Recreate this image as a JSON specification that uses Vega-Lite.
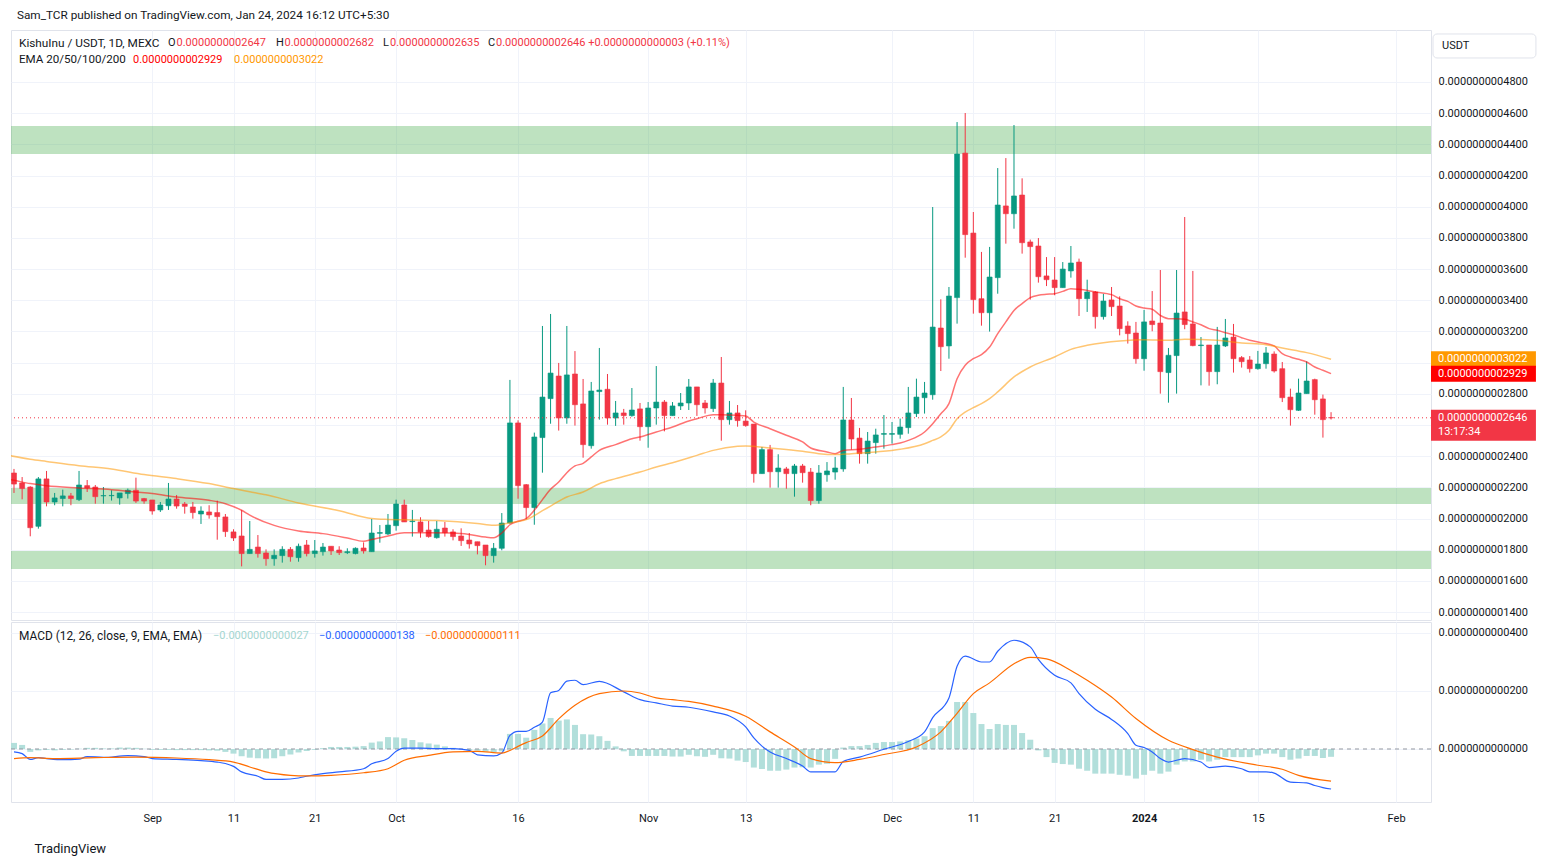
{
"$schema": "https://vega.github.io/schema/vega-lite/v6.json",
"background": "white",
"padding": {"left": 10, "top": 9, "right": 10, "bottom": 8},
"title": {"text": "Sam_TCR published on TradingView.com, Jan 24, 2024 16:12 UTC+5:30", "anchor": "start", "dx": 7, "dy": -1, "fontSize": 11.75, "font": "Roboto", "fontWeight": "normal", "color": "#131722", "offset": 7},
"config": {"font": "Roboto", "view": {"stroke": "#e0e3eb"}, "scale": {"continuousPadding": 0}, "axis": {"labelFont": "Roboto", "labelFontSize": 11, "labelColor": "#131722", "gridColor": "#f0f3fa", "ticks": false, "domain": false, "labelOverlap": false}},
"spacing": 0,
"resolve": {"scale": {"x": "independent", "y": "independent", "color": "independent"}},
"datasets": {
"zones": [{"lo": 4.338e-10, "hi": 4.518e-10}, {"lo": 2.093e-10, "hi": 2.196e-10}, {"lo": 1.676e-10, "hi": 1.792e-10}],
"last": [{"k": "EMA50", "p": 3.022e-10, "t": "0.0000000003022", "sub": ""}, {"k": "EMA20", "p": 2.929e-10, "t": "0.0000000002929", "sub": ""}, {"k": "Close", "p": 2.646e-10, "t": "0.0000000002646", "sub": "13:17:34"}],
"candles": [
{"d":"2023-08-15","o":2.292e-10,"h":2.318e-10,"l":2.164e-10,"c":2.221e-10},
{"d":"2023-08-16","o":2.228e-10,"h":2.266e-10,"l":2.123e-10,"c":2.192e-10},
{"d":"2023-08-17","o":2.202e-10,"h":2.207e-10,"l":1.886e-10,"c":1.941e-10},
{"d":"2023-08-18","o":1.950e-10,"h":2.266e-10,"l":1.935e-10,"c":2.254e-10},
{"d":"2023-08-19","o":2.254e-10,"h":2.305e-10,"l":2.078e-10,"c":2.106e-10},
{"d":"2023-08-20","o":2.106e-10,"h":2.164e-10,"l":2.085e-10,"c":2.132e-10},
{"d":"2023-08-21","o":2.128e-10,"h":2.185e-10,"l":2.078e-10,"c":2.145e-10},
{"d":"2023-08-22","o":2.145e-10,"h":2.164e-10,"l":2.085e-10,"c":2.128e-10},
{"d":"2023-08-23","o":2.121e-10,"h":2.305e-10,"l":2.112e-10,"c":2.215e-10},
{"d":"2023-08-24","o":2.211e-10,"h":2.247e-10,"l":2.170e-10,"c":2.196e-10},
{"d":"2023-08-25","o":2.202e-10,"h":2.215e-10,"l":2.095e-10,"c":2.140e-10},
{"d":"2023-08-26","o":2.145e-10,"h":2.202e-10,"l":2.095e-10,"c":2.147e-10},
{"d":"2023-08-27","o":2.146e-10,"h":2.181e-10,"l":2.115e-10,"c":2.148e-10},
{"d":"2023-08-28","o":2.132e-10,"h":2.164e-10,"l":2.089e-10,"c":2.164e-10},
{"d":"2023-08-29","o":2.160e-10,"h":2.192e-10,"l":2.128e-10,"c":2.181e-10},
{"d":"2023-08-30","o":2.181e-10,"h":2.262e-10,"l":2.100e-10,"c":2.112e-10},
{"d":"2023-08-31","o":2.128e-10,"h":2.132e-10,"l":2.095e-10,"c":2.112e-10},
{"d":"2023-09-01","o":2.119e-10,"h":2.119e-10,"l":2.025e-10,"c":2.048e-10},
{"d":"2023-09-02","o":2.055e-10,"h":2.106e-10,"l":2.042e-10,"c":2.087e-10},
{"d":"2023-09-03","o":2.082e-10,"h":2.228e-10,"l":2.055e-10,"c":2.125e-10},
{"d":"2023-09-04","o":2.125e-10,"h":2.151e-10,"l":2.063e-10,"c":2.080e-10},
{"d":"2023-09-05","o":2.093e-10,"h":2.106e-10,"l":2.031e-10,"c":2.078e-10},
{"d":"2023-09-06","o":2.074e-10,"h":2.106e-10,"l":1.999e-10,"c":2.038e-10},
{"d":"2023-09-07","o":2.029e-10,"h":2.078e-10,"l":1.965e-10,"c":2.048e-10},
{"d":"2023-09-08","o":2.042e-10,"h":2.085e-10,"l":1.999e-10,"c":2.023e-10},
{"d":"2023-09-09","o":2.038e-10,"h":2.115e-10,"l":1.864e-10,"c":2.012e-10},
{"d":"2023-09-10","o":2.010e-10,"h":2.029e-10,"l":1.882e-10,"c":1.916e-10},
{"d":"2023-09-11","o":1.914e-10,"h":1.931e-10,"l":1.856e-10,"c":1.875e-10},
{"d":"2023-09-12","o":1.888e-10,"h":2.053e-10,"l":1.693e-10,"c":1.775e-10},
{"d":"2023-09-13","o":1.775e-10,"h":1.984e-10,"l":1.775e-10,"c":1.802e-10},
{"d":"2023-09-14","o":1.817e-10,"h":1.894e-10,"l":1.749e-10,"c":1.775e-10},
{"d":"2023-09-15","o":1.779e-10,"h":1.802e-10,"l":1.697e-10,"c":1.742e-10},
{"d":"2023-09-16","o":1.742e-10,"h":1.802e-10,"l":1.697e-10,"c":1.764e-10},
{"d":"2023-09-17","o":1.762e-10,"h":1.822e-10,"l":1.717e-10,"c":1.802e-10},
{"d":"2023-09-18","o":1.802e-10,"h":1.817e-10,"l":1.723e-10,"c":1.755e-10},
{"d":"2023-09-19","o":1.749e-10,"h":1.839e-10,"l":1.723e-10,"c":1.822e-10},
{"d":"2023-09-20","o":1.830e-10,"h":1.862e-10,"l":1.757e-10,"c":1.775e-10},
{"d":"2023-09-21","o":1.775e-10,"h":1.862e-10,"l":1.749e-10,"c":1.792e-10},
{"d":"2023-09-22","o":1.787e-10,"h":1.843e-10,"l":1.762e-10,"c":1.817e-10},
{"d":"2023-09-23","o":1.822e-10,"h":1.822e-10,"l":1.766e-10,"c":1.792e-10},
{"d":"2023-09-24","o":1.798e-10,"h":1.822e-10,"l":1.766e-10,"c":1.781e-10},
{"d":"2023-09-25","o":1.781e-10,"h":1.809e-10,"l":1.772e-10,"c":1.787e-10},
{"d":"2023-09-26","o":1.775e-10,"h":1.815e-10,"l":1.770e-10,"c":1.809e-10},
{"d":"2023-09-27","o":1.811e-10,"h":1.847e-10,"l":1.775e-10,"c":1.792e-10},
{"d":"2023-09-28","o":1.787e-10,"h":1.997e-10,"l":1.787e-10,"c":1.907e-10},
{"d":"2023-09-29","o":1.905e-10,"h":1.958e-10,"l":1.845e-10,"c":1.910e-10},
{"d":"2023-09-30","o":1.901e-10,"h":2.029e-10,"l":1.894e-10,"c":1.958e-10},
{"d":"2023-10-01","o":1.954e-10,"h":2.121e-10,"l":1.922e-10,"c":2.093e-10},
{"d":"2023-10-02","o":2.087e-10,"h":2.121e-10,"l":1.978e-10,"c":1.978e-10},
{"d":"2023-10-03","o":1.980e-10,"h":2.055e-10,"l":1.884e-10,"c":1.984e-10},
{"d":"2023-10-04","o":1.978e-10,"h":2.008e-10,"l":1.877e-10,"c":1.914e-10},
{"d":"2023-10-05","o":1.926e-10,"h":1.984e-10,"l":1.877e-10,"c":1.884e-10},
{"d":"2023-10-06","o":1.877e-10,"h":1.984e-10,"l":1.871e-10,"c":1.931e-10},
{"d":"2023-10-07","o":1.939e-10,"h":1.978e-10,"l":1.884e-10,"c":1.909e-10},
{"d":"2023-10-08","o":1.914e-10,"h":1.931e-10,"l":1.860e-10,"c":1.884e-10},
{"d":"2023-10-09","o":1.888e-10,"h":1.937e-10,"l":1.824e-10,"c":1.858e-10},
{"d":"2023-10-10","o":1.862e-10,"h":1.907e-10,"l":1.807e-10,"c":1.837e-10},
{"d":"2023-10-11","o":1.851e-10,"h":1.851e-10,"l":1.770e-10,"c":1.826e-10},
{"d":"2023-10-12","o":1.830e-10,"h":1.830e-10,"l":1.700e-10,"c":1.762e-10},
{"d":"2023-10-13","o":1.762e-10,"h":1.843e-10,"l":1.717e-10,"c":1.809e-10},
{"d":"2023-10-14","o":1.809e-10,"h":2.035e-10,"l":1.796e-10,"c":1.971e-10},
{"d":"2023-10-15","o":1.971e-10,"h":2.889e-10,"l":1.967e-10,"c":2.613e-10},
{"d":"2023-10-16","o":2.613e-10,"h":2.630e-10,"l":2.127e-10,"c":2.211e-10},
{"d":"2023-10-17","o":2.217e-10,"h":2.221e-10,"l":1.995e-10,"c":2.070e-10},
{"d":"2023-10-18","o":2.070e-10,"h":2.551e-10,"l":1.960e-10,"c":2.523e-10},
{"d":"2023-10-19","o":2.519e-10,"h":3.235e-10,"l":2.294e-10,"c":2.779e-10},
{"d":"2023-10-20","o":2.769e-10,"h":3.312e-10,"l":2.608e-10,"c":2.933e-10},
{"d":"2023-10-21","o":2.914e-10,"h":2.998e-10,"l":2.564e-10,"c":2.645e-10},
{"d":"2023-10-22","o":2.645e-10,"h":3.235e-10,"l":2.608e-10,"c":2.921e-10},
{"d":"2023-10-23","o":2.927e-10,"h":3.074e-10,"l":2.596e-10,"c":2.730e-10},
{"d":"2023-10-24","o":2.735e-10,"h":2.895e-10,"l":2.390e-10,"c":2.474e-10},
{"d":"2023-10-25","o":2.467e-10,"h":2.876e-10,"l":2.448e-10,"c":2.818e-10},
{"d":"2023-10-26","o":2.814e-10,"h":3.094e-10,"l":2.634e-10,"c":2.824e-10},
{"d":"2023-10-27","o":2.829e-10,"h":2.927e-10,"l":2.602e-10,"c":2.645e-10},
{"d":"2023-10-28","o":2.645e-10,"h":2.754e-10,"l":2.594e-10,"c":2.677e-10},
{"d":"2023-10-29","o":2.677e-10,"h":2.703e-10,"l":2.602e-10,"c":2.660e-10},
{"d":"2023-10-30","o":2.660e-10,"h":2.837e-10,"l":2.653e-10,"c":2.696e-10},
{"d":"2023-10-31","o":2.703e-10,"h":2.741e-10,"l":2.499e-10,"c":2.589e-10},
{"d":"2023-11-01","o":2.589e-10,"h":2.747e-10,"l":2.454e-10,"c":2.709e-10},
{"d":"2023-11-02","o":2.709e-10,"h":2.978e-10,"l":2.602e-10,"c":2.747e-10},
{"d":"2023-11-03","o":2.747e-10,"h":2.760e-10,"l":2.559e-10,"c":2.660e-10},
{"d":"2023-11-04","o":2.660e-10,"h":2.747e-10,"l":2.660e-10,"c":2.722e-10},
{"d":"2023-11-05","o":2.722e-10,"h":2.805e-10,"l":2.696e-10,"c":2.741e-10},
{"d":"2023-11-06","o":2.741e-10,"h":2.895e-10,"l":2.696e-10,"c":2.844e-10},
{"d":"2023-11-07","o":2.844e-10,"h":2.844e-10,"l":2.658e-10,"c":2.730e-10},
{"d":"2023-11-08","o":2.741e-10,"h":2.760e-10,"l":2.673e-10,"c":2.709e-10},
{"d":"2023-11-09","o":2.705e-10,"h":2.895e-10,"l":2.683e-10,"c":2.869e-10},
{"d":"2023-11-10","o":2.869e-10,"h":3.036e-10,"l":2.499e-10,"c":2.634e-10},
{"d":"2023-11-11","o":2.634e-10,"h":2.754e-10,"l":2.602e-10,"c":2.677e-10},
{"d":"2023-11-12","o":2.677e-10,"h":2.728e-10,"l":2.589e-10,"c":2.628e-10},
{"d":"2023-11-13","o":2.625e-10,"h":2.694e-10,"l":2.589e-10,"c":2.596e-10},
{"d":"2023-11-14","o":2.606e-10,"h":2.606e-10,"l":2.230e-10,"c":2.288e-10},
{"d":"2023-11-15","o":2.288e-10,"h":2.459e-10,"l":2.288e-10,"c":2.442e-10},
{"d":"2023-11-16","o":2.442e-10,"h":2.472e-10,"l":2.198e-10,"c":2.300e-10},
{"d":"2023-11-17","o":2.300e-10,"h":2.412e-10,"l":2.198e-10,"c":2.324e-10},
{"d":"2023-11-18","o":2.318e-10,"h":2.331e-10,"l":2.191e-10,"c":2.288e-10},
{"d":"2023-11-19","o":2.288e-10,"h":2.350e-10,"l":2.140e-10,"c":2.337e-10},
{"d":"2023-11-20","o":2.337e-10,"h":2.350e-10,"l":2.230e-10,"c":2.294e-10},
{"d":"2023-11-21","o":2.298e-10,"h":2.324e-10,"l":2.085e-10,"c":2.115e-10},
{"d":"2023-11-22","o":2.115e-10,"h":2.343e-10,"l":2.095e-10,"c":2.292e-10},
{"d":"2023-11-23","o":2.281e-10,"h":2.362e-10,"l":2.236e-10,"c":2.305e-10},
{"d":"2023-11-24","o":2.298e-10,"h":2.395e-10,"l":2.249e-10,"c":2.324e-10},
{"d":"2023-11-25","o":2.318e-10,"h":2.844e-10,"l":2.300e-10,"c":2.632e-10},
{"d":"2023-11-26","o":2.632e-10,"h":2.773e-10,"l":2.442e-10,"c":2.510e-10},
{"d":"2023-11-27","o":2.516e-10,"h":2.581e-10,"l":2.352e-10,"c":2.416e-10},
{"d":"2023-11-28","o":2.416e-10,"h":2.555e-10,"l":2.352e-10,"c":2.497e-10},
{"d":"2023-11-29","o":2.487e-10,"h":2.576e-10,"l":2.416e-10,"c":2.536e-10},
{"d":"2023-11-30","o":2.540e-10,"h":2.664e-10,"l":2.448e-10,"c":2.545e-10},
{"d":"2023-12-01","o":2.540e-10,"h":2.619e-10,"l":2.480e-10,"c":2.545e-10},
{"d":"2023-12-02","o":2.540e-10,"h":2.641e-10,"l":2.512e-10,"c":2.587e-10},
{"d":"2023-12-03","o":2.583e-10,"h":2.844e-10,"l":2.544e-10,"c":2.677e-10},
{"d":"2023-12-04","o":2.673e-10,"h":2.897e-10,"l":2.651e-10,"c":2.779e-10},
{"d":"2023-12-05","o":2.775e-10,"h":2.876e-10,"l":2.673e-10,"c":2.805e-10},
{"d":"2023-12-06","o":2.794e-10,"h":3.998e-10,"l":2.762e-10,"c":3.228e-10},
{"d":"2023-12-07","o":3.222e-10,"h":3.406e-10,"l":2.946e-10,"c":3.102e-10},
{"d":"2023-12-08","o":3.107e-10,"h":3.485e-10,"l":3.025e-10,"c":3.427e-10},
{"d":"2023-12-09","o":3.417e-10,"h":4.543e-10,"l":3.250e-10,"c":4.338e-10},
{"d":"2023-12-10","o":4.344e-10,"h":4.601e-10,"l":3.673e-10,"c":3.821e-10},
{"d":"2023-12-11","o":3.831e-10,"h":3.966e-10,"l":3.314e-10,"c":3.404e-10},
{"d":"2023-12-12","o":3.410e-10,"h":3.710e-10,"l":3.237e-10,"c":3.320e-10},
{"d":"2023-12-13","o":3.320e-10,"h":3.742e-10,"l":3.199e-10,"c":3.549e-10},
{"d":"2023-12-14","o":3.545e-10,"h":4.248e-10,"l":3.442e-10,"c":4.011e-10},
{"d":"2023-12-15","o":4.005e-10,"h":4.312e-10,"l":3.763e-10,"c":3.955e-10},
{"d":"2023-12-16","o":3.955e-10,"h":4.524e-10,"l":3.859e-10,"c":4.069e-10},
{"d":"2023-12-17","o":4.075e-10,"h":4.182e-10,"l":3.699e-10,"c":3.769e-10},
{"d":"2023-12-18","o":3.774e-10,"h":3.789e-10,"l":3.404e-10,"c":3.744e-10},
{"d":"2023-12-19","o":3.748e-10,"h":3.799e-10,"l":3.513e-10,"c":3.551e-10},
{"d":"2023-12-20","o":3.556e-10,"h":3.677e-10,"l":3.491e-10,"c":3.532e-10},
{"d":"2023-12-21","o":3.530e-10,"h":3.677e-10,"l":3.432e-10,"c":3.481e-10},
{"d":"2023-12-22","o":3.481e-10,"h":3.645e-10,"l":3.481e-10,"c":3.600e-10},
{"d":"2023-12-23","o":3.588e-10,"h":3.748e-10,"l":3.545e-10,"c":3.639e-10},
{"d":"2023-12-24","o":3.645e-10,"h":3.667e-10,"l":3.299e-10,"c":3.410e-10},
{"d":"2023-12-25","o":3.410e-10,"h":3.532e-10,"l":3.325e-10,"c":3.453e-10},
{"d":"2023-12-26","o":3.453e-10,"h":3.459e-10,"l":3.218e-10,"c":3.295e-10},
{"d":"2023-12-27","o":3.295e-10,"h":3.440e-10,"l":3.276e-10,"c":3.395e-10},
{"d":"2023-12-28","o":3.402e-10,"h":3.485e-10,"l":3.299e-10,"c":3.359e-10},
{"d":"2023-12-29","o":3.363e-10,"h":3.425e-10,"l":3.175e-10,"c":3.218e-10},
{"d":"2023-12-30","o":3.235e-10,"h":3.265e-10,"l":3.122e-10,"c":3.186e-10},
{"d":"2023-12-31","o":3.190e-10,"h":3.261e-10,"l":2.993e-10,"c":3.025e-10},
{"d":"2024-01-01","o":3.025e-10,"h":3.338e-10,"l":2.948e-10,"c":3.261e-10},
{"d":"2024-01-02","o":3.267e-10,"h":3.459e-10,"l":3.201e-10,"c":3.244e-10},
{"d":"2024-01-03","o":3.254e-10,"h":3.594e-10,"l":2.801e-10,"c":2.942e-10},
{"d":"2024-01-04","o":2.936e-10,"h":3.094e-10,"l":2.743e-10,"c":3.047e-10},
{"d":"2024-01-05","o":3.045e-10,"h":3.594e-10,"l":2.801e-10,"c":3.318e-10},
{"d":"2024-01-06","o":3.325e-10,"h":3.934e-10,"l":3.214e-10,"c":3.244e-10},
{"d":"2024-01-07","o":3.248e-10,"h":3.588e-10,"l":3.105e-10,"c":3.109e-10},
{"d":"2024-01-08","o":3.109e-10,"h":3.164e-10,"l":2.854e-10,"c":3.113e-10},
{"d":"2024-01-09","o":3.113e-10,"h":3.113e-10,"l":2.852e-10,"c":2.942e-10},
{"d":"2024-01-10","o":2.942e-10,"h":3.229e-10,"l":2.861e-10,"c":3.113e-10},
{"d":"2024-01-11","o":3.107e-10,"h":3.280e-10,"l":3.100e-10,"c":3.158e-10},
{"d":"2024-01-12","o":3.164e-10,"h":3.248e-10,"l":2.936e-10,"c":3.025e-10},
{"d":"2024-01-13","o":3.032e-10,"h":3.042e-10,"l":2.968e-10,"c":3.006e-10},
{"d":"2024-01-14","o":3.017e-10,"h":3.042e-10,"l":2.936e-10,"c":2.961e-10},
{"d":"2024-01-15","o":2.961e-10,"h":3.075e-10,"l":2.955e-10,"c":2.991e-10},
{"d":"2024-01-16","o":2.993e-10,"h":3.100e-10,"l":2.961e-10,"c":3.062e-10},
{"d":"2024-01-17","o":3.055e-10,"h":3.072e-10,"l":2.936e-10,"c":2.946e-10},
{"d":"2024-01-18","o":2.961e-10,"h":3.004e-10,"l":2.747e-10,"c":2.775e-10},
{"d":"2024-01-19","o":2.779e-10,"h":2.833e-10,"l":2.596e-10,"c":2.698e-10},
{"d":"2024-01-20","o":2.694e-10,"h":2.897e-10,"l":2.690e-10,"c":2.805e-10},
{"d":"2024-01-21","o":2.801e-10,"h":3.008e-10,"l":2.801e-10,"c":2.882e-10},
{"d":"2024-01-22","o":2.891e-10,"h":2.897e-10,"l":2.666e-10,"c":2.762e-10},
{"d":"2024-01-23","o":2.767e-10,"h":2.795e-10,"l":2.519e-10,"c":2.634e-10},
{"d":"2024-01-24","o":2.647e-10,"h":2.682e-10,"l":2.635e-10,"c":2.646e-10}
],
"ema": [
{"d":"2023-08-14","s":"EMA20","v":2.255e-10},{"d":"2023-08-15","s":"EMA20","v":2.245e-10},{"d":"2023-08-17","s":"EMA20","v":2.224e-10},{"d":"2023-08-19","s":"EMA20","v":2.210e-10},{"d":"2023-08-23","s":"EMA20","v":2.196e-10},{"d":"2023-08-27","s":"EMA20","v":2.185e-10},{"d":"2023-08-30","s":"EMA20","v":2.170e-10},{"d":"2023-09-01","s":"EMA20","v":2.160e-10},{"d":"2023-09-04","s":"EMA20","v":2.138e-10},{"d":"2023-09-08","s":"EMA20","v":2.117e-10},{"d":"2023-09-10","s":"EMA20","v":2.095e-10},{"d":"2023-09-12","s":"EMA20","v":2.053e-10},{"d":"2023-09-13","s":"EMA20","v":2.022e-10},{"d":"2023-09-16","s":"EMA20","v":1.956e-10},{"d":"2023-09-19","s":"EMA20","v":1.920e-10},{"d":"2023-09-22","s":"EMA20","v":1.903e-10},{"d":"2023-09-25","s":"EMA20","v":1.875e-10},{"d":"2023-09-27","s":"EMA20","v":1.854e-10},{"d":"2023-09-28","s":"EMA20","v":1.866e-10},{"d":"2023-09-30","s":"EMA20","v":1.888e-10},{"d":"2023-10-02","s":"EMA20","v":1.909e-10},{"d":"2023-10-05","s":"EMA20","v":1.909e-10},{"d":"2023-10-08","s":"EMA20","v":1.907e-10},{"d":"2023-10-10","s":"EMA20","v":1.898e-10},{"d":"2023-10-12","s":"EMA20","v":1.881e-10},{"d":"2023-10-13","s":"EMA20","v":1.877e-10},{"d":"2023-10-14","s":"EMA20","v":1.907e-10},{"d":"2023-10-15","s":"EMA20","v":1.960e-10},{"d":"2023-10-16","s":"EMA20","v":1.982e-10},{"d":"2023-10-17","s":"EMA20","v":1.999e-10},{"d":"2023-10-18","s":"EMA20","v":2.053e-10},{"d":"2023-10-19","s":"EMA20","v":2.121e-10},{"d":"2023-10-20","s":"EMA20","v":2.187e-10},{"d":"2023-10-21","s":"EMA20","v":2.234e-10},{"d":"2023-10-22","s":"EMA20","v":2.294e-10},{"d":"2023-10-23","s":"EMA20","v":2.337e-10},{"d":"2023-10-24","s":"EMA20","v":2.354e-10},{"d":"2023-10-25","s":"EMA20","v":2.395e-10},{"d":"2023-10-26","s":"EMA20","v":2.437e-10},{"d":"2023-10-28","s":"EMA20","v":2.474e-10},{"d":"2023-10-30","s":"EMA20","v":2.512e-10},{"d":"2023-10-31","s":"EMA20","v":2.523e-10},{"d":"2023-11-02","s":"EMA20","v":2.555e-10},{"d":"2023-11-04","s":"EMA20","v":2.587e-10},{"d":"2023-11-06","s":"EMA20","v":2.626e-10},{"d":"2023-11-07","s":"EMA20","v":2.640e-10},{"d":"2023-11-09","s":"EMA20","v":2.666e-10},{"d":"2023-11-10","s":"EMA20","v":2.666e-10},{"d":"2023-11-12","s":"EMA20","v":2.662e-10},{"d":"2023-11-13","s":"EMA20","v":2.658e-10},{"d":"2023-11-14","s":"EMA20","v":2.619e-10},{"d":"2023-11-16","s":"EMA20","v":2.576e-10},{"d":"2023-11-18","s":"EMA20","v":2.534e-10},{"d":"2023-11-20","s":"EMA20","v":2.491e-10},{"d":"2023-11-21","s":"EMA20","v":2.452e-10},{"d":"2023-11-23","s":"EMA20","v":2.427e-10},{"d":"2023-11-24","s":"EMA20","v":2.416e-10},{"d":"2023-11-25","s":"EMA20","v":2.437e-10},{"d":"2023-11-27","s":"EMA20","v":2.444e-10},{"d":"2023-11-29","s":"EMA20","v":2.459e-10},{"d":"2023-12-01","s":"EMA20","v":2.474e-10},{"d":"2023-12-02","s":"EMA20","v":2.484e-10},{"d":"2023-12-03","s":"EMA20","v":2.501e-10},{"d":"2023-12-05","s":"EMA20","v":2.555e-10},{"d":"2023-12-06","s":"EMA20","v":2.608e-10},{"d":"2023-12-07","s":"EMA20","v":2.672e-10},{"d":"2023-12-08","s":"EMA20","v":2.737e-10},{"d":"2023-12-09","s":"EMA20","v":2.897e-10},{"d":"2023-12-10","s":"EMA20","v":2.983e-10},{"d":"2023-12-11","s":"EMA20","v":3.025e-10},{"d":"2023-12-12","s":"EMA20","v":3.051e-10},{"d":"2023-12-13","s":"EMA20","v":3.100e-10},{"d":"2023-12-14","s":"EMA20","v":3.186e-10},{"d":"2023-12-15","s":"EMA20","v":3.261e-10},{"d":"2023-12-16","s":"EMA20","v":3.335e-10},{"d":"2023-12-17","s":"EMA20","v":3.378e-10},{"d":"2023-12-18","s":"EMA20","v":3.417e-10},{"d":"2023-12-19","s":"EMA20","v":3.432e-10},{"d":"2023-12-20","s":"EMA20","v":3.438e-10},{"d":"2023-12-21","s":"EMA20","v":3.442e-10},{"d":"2023-12-22","s":"EMA20","v":3.457e-10},{"d":"2023-12-23","s":"EMA20","v":3.474e-10},{"d":"2023-12-24","s":"EMA20","v":3.470e-10},{"d":"2023-12-26","s":"EMA20","v":3.453e-10},{"d":"2023-12-28","s":"EMA20","v":3.436e-10},{"d":"2023-12-29","s":"EMA20","v":3.410e-10},{"d":"2023-12-30","s":"EMA20","v":3.393e-10},{"d":"2023-12-31","s":"EMA20","v":3.363e-10},{"d":"2024-01-01","s":"EMA20","v":3.350e-10},{"d":"2024-01-02","s":"EMA20","v":3.342e-10},{"d":"2024-01-03","s":"EMA20","v":3.303e-10},{"d":"2024-01-04","s":"EMA20","v":3.282e-10},{"d":"2024-01-05","s":"EMA20","v":3.282e-10},{"d":"2024-01-06","s":"EMA20","v":3.278e-10},{"d":"2024-01-07","s":"EMA20","v":3.261e-10},{"d":"2024-01-08","s":"EMA20","v":3.243e-10},{"d":"2024-01-09","s":"EMA20","v":3.218e-10},{"d":"2024-01-10","s":"EMA20","v":3.207e-10},{"d":"2024-01-11","s":"EMA20","v":3.192e-10},{"d":"2024-01-12","s":"EMA20","v":3.179e-10},{"d":"2024-01-13","s":"EMA20","v":3.160e-10},{"d":"2024-01-14","s":"EMA20","v":3.143e-10},{"d":"2024-01-15","s":"EMA20","v":3.132e-10},{"d":"2024-01-16","s":"EMA20","v":3.122e-10},{"d":"2024-01-17","s":"EMA20","v":3.107e-10},{"d":"2024-01-18","s":"EMA20","v":3.058e-10},{"d":"2024-01-19","s":"EMA20","v":3.036e-10},{"d":"2024-01-20","s":"EMA20","v":3.021e-10},{"d":"2024-01-21","s":"EMA20","v":3.004e-10},{"d":"2024-01-22","s":"EMA20","v":2.972e-10},{"d":"2024-01-23","s":"EMA20","v":2.951e-10},{"d":"2024-01-24","s":"EMA20","v":2.929e-10},
{"d":"2023-08-14","s":"EMA50","v":2.408e-10},{"d":"2023-08-17","s":"EMA50","v":2.380e-10},{"d":"2023-08-19","s":"EMA50","v":2.366e-10},{"d":"2023-08-23","s":"EMA50","v":2.339e-10},{"d":"2023-08-27","s":"EMA50","v":2.318e-10},{"d":"2023-08-31","s":"EMA50","v":2.282e-10},{"d":"2023-09-04","s":"EMA50","v":2.256e-10},{"d":"2023-09-08","s":"EMA50","v":2.224e-10},{"d":"2023-09-11","s":"EMA50","v":2.192e-10},{"d":"2023-09-13","s":"EMA50","v":2.172e-10},{"d":"2023-09-15","s":"EMA50","v":2.152e-10},{"d":"2023-09-19","s":"EMA50","v":2.100e-10},{"d":"2023-09-24","s":"EMA50","v":2.050e-10},{"d":"2023-09-28","s":"EMA50","v":2.000e-10},{"d":"2023-09-30","s":"EMA50","v":1.994e-10},{"d":"2023-10-02","s":"EMA50","v":1.992e-10},{"d":"2023-10-06","s":"EMA50","v":1.987e-10},{"d":"2023-10-11","s":"EMA50","v":1.968e-10},{"d":"2023-10-13","s":"EMA50","v":1.956e-10},{"d":"2023-10-15","s":"EMA50","v":1.973e-10},{"d":"2023-10-17","s":"EMA50","v":1.993e-10},{"d":"2023-10-19","s":"EMA50","v":2.050e-10},{"d":"2023-10-20","s":"EMA50","v":2.080e-10},{"d":"2023-10-22","s":"EMA50","v":2.138e-10},{"d":"2023-10-24","s":"EMA50","v":2.170e-10},{"d":"2023-10-26","s":"EMA50","v":2.223e-10},{"d":"2023-10-28","s":"EMA50","v":2.256e-10},{"d":"2023-10-31","s":"EMA50","v":2.298e-10},{"d":"2023-11-02","s":"EMA50","v":2.330e-10},{"d":"2023-11-04","s":"EMA50","v":2.358e-10},{"d":"2023-11-07","s":"EMA50","v":2.405e-10},{"d":"2023-11-09","s":"EMA50","v":2.437e-10},{"d":"2023-11-12","s":"EMA50","v":2.463e-10},{"d":"2023-11-13","s":"EMA50","v":2.465e-10},{"d":"2023-11-16","s":"EMA50","v":2.452e-10},{"d":"2023-11-20","s":"EMA50","v":2.431e-10},{"d":"2023-11-22","s":"EMA50","v":2.416e-10},{"d":"2023-11-24","s":"EMA50","v":2.410e-10},{"d":"2023-11-26","s":"EMA50","v":2.416e-10},{"d":"2023-11-29","s":"EMA50","v":2.427e-10},{"d":"2023-12-02","s":"EMA50","v":2.444e-10},{"d":"2023-12-05","s":"EMA50","v":2.480e-10},{"d":"2023-12-06","s":"EMA50","v":2.501e-10},{"d":"2023-12-07","s":"EMA50","v":2.523e-10},{"d":"2023-12-08","s":"EMA50","v":2.566e-10},{"d":"2023-12-09","s":"EMA50","v":2.640e-10},{"d":"2023-12-10","s":"EMA50","v":2.683e-10},{"d":"2023-12-11","s":"EMA50","v":2.711e-10},{"d":"2023-12-12","s":"EMA50","v":2.737e-10},{"d":"2023-12-13","s":"EMA50","v":2.769e-10},{"d":"2023-12-14","s":"EMA50","v":2.812e-10},{"d":"2023-12-16","s":"EMA50","v":2.908e-10},{"d":"2023-12-18","s":"EMA50","v":2.972e-10},{"d":"2023-12-21","s":"EMA50","v":3.036e-10},{"d":"2023-12-23","s":"EMA50","v":3.085e-10},{"d":"2023-12-25","s":"EMA50","v":3.111e-10},{"d":"2023-12-27","s":"EMA50","v":3.128e-10},{"d":"2023-12-29","s":"EMA50","v":3.139e-10},{"d":"2024-01-01","s":"EMA50","v":3.147e-10},{"d":"2024-01-04","s":"EMA50","v":3.143e-10},{"d":"2024-01-06","s":"EMA50","v":3.150e-10},{"d":"2024-01-10","s":"EMA50","v":3.143e-10},{"d":"2024-01-13","s":"EMA50","v":3.126e-10},{"d":"2024-01-16","s":"EMA50","v":3.115e-10},{"d":"2024-01-18","s":"EMA50","v":3.094e-10},{"d":"2024-01-21","s":"EMA50","v":3.064e-10},{"d":"2024-01-24","s":"EMA50","v":3.022e-10}
],
"hist": [
{"d":"2023-08-15","h":2.1e-12},{"d":"2023-08-16","h":1.4e-12},{"d":"2023-08-17","h":-1.0e-12},{"d":"2023-08-18","h":-0.5e-12},{"d":"2023-08-19","h":-0.3e-12},{"d":"2023-08-20","h":-0.5e-12},{"d":"2023-08-21","h":-0.3e-12},{"d":"2023-08-22","h":-0.2e-12},{"d":"2023-08-23","h":0.1e-12},{"d":"2023-08-24","h":0.4e-12},{"d":"2023-08-25","h":0.4e-12},{"d":"2023-08-26","h":0.2e-12},{"d":"2023-08-27","h":0.2e-12},{"d":"2023-08-28","h":0.5e-12},{"d":"2023-08-29","h":0.5e-12},{"d":"2023-08-30","h":0.4e-12},{"d":"2023-08-31","h":0.1e-12},
{"d":"2023-09-01","h":-0.3e-12},{"d":"2023-09-02","h":-0.3e-12},{"d":"2023-09-03","h":-0.3e-12},{"d":"2023-09-04","h":-0.4e-12},{"d":"2023-09-05","h":-0.4e-12},{"d":"2023-09-06","h":-0.4e-12},{"d":"2023-09-07","h":-0.4e-12},{"d":"2023-09-08","h":-0.5e-12},{"d":"2023-09-09","h":-0.6e-12},{"d":"2023-09-10","h":-1.0e-12},{"d":"2023-09-11","h":-1.6e-12},{"d":"2023-09-12","h":-2.5e-12},{"d":"2023-09-13","h":-3.0e-12},{"d":"2023-09-14","h":-3.2e-12},{"d":"2023-09-15","h":-3.3e-12},{"d":"2023-09-16","h":-3.2e-12},{"d":"2023-09-17","h":-2.5e-12},{"d":"2023-09-18","h":-1.9e-12},{"d":"2023-09-19","h":-1.2e-12},{"d":"2023-09-20","h":-0.7e-12},{"d":"2023-09-21","h":-0.3e-12},{"d":"2023-09-22","h":0.3e-12},{"d":"2023-09-23","h":0.7e-12},{"d":"2023-09-24","h":0.7e-12},{"d":"2023-09-25","h":0.7e-12},{"d":"2023-09-26","h":0.8e-12},{"d":"2023-09-27","h":1.0e-12},{"d":"2023-09-28","h":2.2e-12},{"d":"2023-09-29","h":2.6e-12},{"d":"2023-09-30","h":4.1e-12},
{"d":"2023-10-01","h":4.0e-12},{"d":"2023-10-02","h":3.7e-12},{"d":"2023-10-03","h":3.1e-12},{"d":"2023-10-04","h":2.3e-12},{"d":"2023-10-05","h":1.9e-12},{"d":"2023-10-06","h":1.5e-12},{"d":"2023-10-07","h":0.9e-12},{"d":"2023-10-08","h":0.4e-12},{"d":"2023-10-09","h":-0.1e-12},{"d":"2023-10-10","h":-0.4e-12},{"d":"2023-10-11","h":-0.6e-12},{"d":"2023-10-12","h":-0.9e-12},{"d":"2023-10-13","h":-1.1e-12},{"d":"2023-10-14","h":-0.8e-12},{"d":"2023-10-15","h":5.2e-12},{"d":"2023-10-16","h":5.2e-12},{"d":"2023-10-17","h":3.9e-12},{"d":"2023-10-18","h":6.6e-12},{"d":"2023-10-19","h":8.8e-12},{"d":"2023-10-20","h":10.7e-12},{"d":"2023-10-21","h":9.8e-12},{"d":"2023-10-22","h":10.2e-12},{"d":"2023-10-23","h":8.3e-12},{"d":"2023-10-24","h":5.1e-12},{"d":"2023-10-25","h":5.0e-12},{"d":"2023-10-26","h":4.4e-12},{"d":"2023-10-27","h":2.8e-12},{"d":"2023-10-28","h":0.9e-12},{"d":"2023-10-29","h":-0.8e-12},{"d":"2023-10-30","h":-2.4e-12},{"d":"2023-10-31","h":-2.4e-12},
{"d":"2023-11-01","h":-2.4e-12},{"d":"2023-11-02","h":-2.4e-12},{"d":"2023-11-03","h":-2.4e-12},{"d":"2023-11-04","h":-2.6e-12},{"d":"2023-11-05","h":-2.6e-12},{"d":"2023-11-06","h":-2.0e-12},{"d":"2023-11-07","h":-2.5e-12},{"d":"2023-11-08","h":-2.7e-12},{"d":"2023-11-09","h":-2.0e-12},{"d":"2023-11-10","h":-3.2e-12},{"d":"2023-11-11","h":-3.3e-12},{"d":"2023-11-12","h":-4.0e-12},{"d":"2023-11-13","h":-4.5e-12},{"d":"2023-11-14","h":-6.4e-12},{"d":"2023-11-15","h":-6.9e-12},{"d":"2023-11-16","h":-7.5e-12},{"d":"2023-11-17","h":-7.5e-12},{"d":"2023-11-18","h":-7.1e-12},{"d":"2023-11-19","h":-6.4e-12},{"d":"2023-11-20","h":-6.3e-12},{"d":"2023-11-21","h":-6.4e-12},{"d":"2023-11-22","h":-5.4e-12},{"d":"2023-11-23","h":-5.1e-12},{"d":"2023-11-24","h":-3.4e-12},{"d":"2023-11-25","h":0.5e-12},{"d":"2023-11-26","h":1.0e-12},{"d":"2023-11-27","h":1.0e-12},{"d":"2023-11-28","h":1.4e-12},{"d":"2023-11-29","h":2.1e-12},{"d":"2023-11-30","h":2.4e-12},
{"d":"2023-12-01","h":2.4e-12},{"d":"2023-12-02","h":2.6e-12},{"d":"2023-12-03","h":3.0e-12},{"d":"2023-12-04","h":3.6e-12},{"d":"2023-12-05","h":4.4e-12},{"d":"2023-12-06","h":7.2e-12},{"d":"2023-12-07","h":7.9e-12},{"d":"2023-12-08","h":9.7e-12},{"d":"2023-12-09","h":16.2e-12},{"d":"2023-12-10","h":16.2e-12},{"d":"2023-12-11","h":12.4e-12},{"d":"2023-12-12","h":8.6e-12},{"d":"2023-12-13","h":6.9e-12},{"d":"2023-12-14","h":8.6e-12},{"d":"2023-12-15","h":8.3e-12},{"d":"2023-12-16","h":8.3e-12},{"d":"2023-12-17","h":5.5e-12},{"d":"2023-12-18","h":3.2e-12},{"d":"2023-12-19","h":-0.5e-12},{"d":"2023-12-20","h":-2.8e-12},{"d":"2023-12-21","h":-4.8e-12},{"d":"2023-12-22","h":-5.2e-12},{"d":"2023-12-23","h":-5.4e-12},{"d":"2023-12-24","h":-6.8e-12},{"d":"2023-12-25","h":-7.5e-12},{"d":"2023-12-26","h":-8.5e-12},{"d":"2023-12-27","h":-8.5e-12},{"d":"2023-12-28","h":-8.5e-12},{"d":"2023-12-29","h":-8.9e-12},{"d":"2023-12-30","h":-9.2e-12},{"d":"2023-12-31","h":-10.2e-12},
{"d":"2024-01-01","h":-8.9e-12},{"d":"2024-01-02","h":-7.5e-12},{"d":"2024-01-03","h":-8.5e-12},{"d":"2024-01-04","h":-7.8e-12},{"d":"2024-01-05","h":-5.4e-12},{"d":"2024-01-06","h":-4.3e-12},{"d":"2024-01-07","h":-4.3e-12},{"d":"2024-01-08","h":-3.7e-12},{"d":"2024-01-09","h":-4.3e-12},{"d":"2024-01-10","h":-3.7e-12},{"d":"2024-01-11","h":-2.8e-12},{"d":"2024-01-12","h":-2.8e-12},{"d":"2024-01-13","h":-2.8e-12},{"d":"2024-01-14","h":-2.8e-12},{"d":"2024-01-15","h":-2.2e-12},{"d":"2024-01-16","h":-1.6e-12},{"d":"2024-01-17","h":-1.6e-12},{"d":"2024-01-18","h":-2.8e-12},{"d":"2024-01-19","h":-3.7e-12},{"d":"2024-01-20","h":-3.3e-12},{"d":"2024-01-21","h":-2.4e-12},{"d":"2024-01-22","h":-2.4e-12},{"d":"2024-01-23","h":-3.1e-12},{"d":"2024-01-24","h":-2.7e-12}
],
"macd": [
{"d":"2023-08-15","s":"MACD","v":-1.0e-12},{"d":"2023-08-16","s":"MACD","v":-1.6e-12},{"d":"2023-08-17","s":"MACD","v":-3.6e-12},{"d":"2023-08-18","s":"MACD","v":-3.0e-12},{"d":"2023-08-19","s":"MACD","v":-3.3e-12},{"d":"2023-08-21","s":"MACD","v":-3.7e-12},{"d":"2023-08-23","s":"MACD","v":-3.5e-12},{"d":"2023-08-24","s":"MACD","v":-2.6e-12},{"d":"2023-08-26","s":"MACD","v":-2.9e-12},{"d":"2023-08-29","s":"MACD","v":-2.3e-12},{"d":"2023-08-31","s":"MACD","v":-2.6e-12},{"d":"2023-09-01","s":"MACD","v":-3.3e-12},{"d":"2023-09-04","s":"MACD","v":-3.6e-12},{"d":"2023-09-07","s":"MACD","v":-4.0e-12},{"d":"2023-09-09","s":"MACD","v":-4.5e-12},{"d":"2023-09-10","s":"MACD","v":-5.0e-12},{"d":"2023-09-11","s":"MACD","v":-6.0e-12},{"d":"2023-09-12","s":"MACD","v":-7.9e-12},{"d":"2023-09-14","s":"MACD","v":-9.4e-12},{"d":"2023-09-15","s":"MACD","v":-10.5e-12},{"d":"2023-09-17","s":"MACD","v":-10.5e-12},{"d":"2023-09-19","s":"MACD","v":-10.0e-12},{"d":"2023-09-20","s":"MACD","v":-9.4e-12},{"d":"2023-09-22","s":"MACD","v":-8.5e-12},{"d":"2023-09-24","s":"MACD","v":-7.9e-12},{"d":"2023-09-27","s":"MACD","v":-6.8e-12},{"d":"2023-09-28","s":"MACD","v":-5.1e-12},{"d":"2023-09-30","s":"MACD","v":-3.3e-12},{"d":"2023-10-01","s":"MACD","v":-0.8e-12},{"d":"2023-10-02","s":"MACD","v":0.3e-12},{"d":"2023-10-04","s":"MACD","v":0.3e-12},{"d":"2023-10-06","s":"MACD","v":0.1e-12},{"d":"2023-10-08","s":"MACD","v":0.1e-12},{"d":"2023-10-10","s":"MACD","v":-0.5e-12},{"d":"2023-10-11","s":"MACD","v":-2.0e-12},{"d":"2023-10-13","s":"MACD","v":-2.4e-12},{"d":"2023-10-14","s":"MACD","v":-1.4e-12},{"d":"2023-10-15","s":"MACD","v":4.7e-12},{"d":"2023-10-16","s":"MACD","v":6.1e-12},{"d":"2023-10-17","s":"MACD","v":6.1e-12},{"d":"2023-10-18","s":"MACD","v":7.5e-12},{"d":"2023-10-19","s":"MACD","v":9.3e-12},{"d":"2023-10-20","s":"MACD","v":19.4e-12},{"d":"2023-10-21","s":"MACD","v":20.2e-12},{"d":"2023-10-22","s":"MACD","v":23.4e-12},{"d":"2023-10-23","s":"MACD","v":23.7e-12},{"d":"2023-10-24","s":"MACD","v":22.2e-12},{"d":"2023-10-26","s":"MACD","v":23.3e-12},{"d":"2023-10-29","s":"MACD","v":19.7e-12},{"d":"2023-10-31","s":"MACD","v":17.0e-12},{"d":"2023-11-02","s":"MACD","v":15.9e-12},{"d":"2023-11-04","s":"MACD","v":14.8e-12},{"d":"2023-11-06","s":"MACD","v":14.4e-12},{"d":"2023-11-09","s":"MACD","v":12.8e-12},{"d":"2023-11-11","s":"MACD","v":11.4e-12},{"d":"2023-11-13","s":"MACD","v":7.6e-12},{"d":"2023-11-14","s":"MACD","v":3.8e-12},{"d":"2023-11-15","s":"MACD","v":1.0e-12},{"d":"2023-11-16","s":"MACD","v":-1.0e-12},{"d":"2023-11-18","s":"MACD","v":-3.3e-12},{"d":"2023-11-20","s":"MACD","v":-5.9e-12},{"d":"2023-11-21","s":"MACD","v":-7.9e-12},{"d":"2023-11-24","s":"MACD","v":-7.9e-12},{"d":"2023-11-25","s":"MACD","v":-4.3e-12},{"d":"2023-11-27","s":"MACD","v":-2.8e-12},{"d":"2023-11-30","s":"MACD","v":-0.1e-12},{"d":"2023-12-03","s":"MACD","v":2.6e-12},{"d":"2023-12-05","s":"MACD","v":5.9e-12},{"d":"2023-12-06","s":"MACD","v":10.8e-12},{"d":"2023-12-08","s":"MACD","v":17.6e-12},{"d":"2023-12-09","s":"MACD","v":28.5e-12},{"d":"2023-12-10","s":"MACD","v":32.0e-12},{"d":"2023-12-12","s":"MACD","v":30.0e-12},{"d":"2023-12-13","s":"MACD","v":30.0e-12},{"d":"2023-12-14","s":"MACD","v":33.7e-12},{"d":"2023-12-16","s":"MACD","v":37.5e-12},{"d":"2023-12-18","s":"MACD","v":35.2e-12},{"d":"2023-12-19","s":"MACD","v":30.9e-12},{"d":"2023-12-21","s":"MACD","v":25.4e-12},{"d":"2023-12-23","s":"MACD","v":22.8e-12},{"d":"2023-12-24","s":"MACD","v":19.1e-12},{"d":"2023-12-26","s":"MACD","v":13.7e-12},{"d":"2023-12-28","s":"MACD","v":10.2e-12},{"d":"2023-12-30","s":"MACD","v":5.3e-12},{"d":"2023-12-31","s":"MACD","v":1.3e-12},{"d":"2024-01-01","s":"MACD","v":0.5e-12},{"d":"2024-01-02","s":"MACD","v":-1.0e-12},{"d":"2024-01-03","s":"MACD","v":-3.3e-12},{"d":"2024-01-04","s":"MACD","v":-4.5e-12},{"d":"2024-01-06","s":"MACD","v":-3.3e-12},{"d":"2024-01-08","s":"MACD","v":-4.5e-12},{"d":"2024-01-09","s":"MACD","v":-6.4e-12},{"d":"2024-01-11","s":"MACD","v":-5.9e-12},{"d":"2024-01-13","s":"MACD","v":-6.8e-12},{"d":"2024-01-14","s":"MACD","v":-7.9e-12},{"d":"2024-01-16","s":"MACD","v":-7.9e-12},{"d":"2024-01-17","s":"MACD","v":-8.3e-12},{"d":"2024-01-19","s":"MACD","v":-11.4e-12},{"d":"2024-01-21","s":"MACD","v":-11.7e-12},{"d":"2024-01-22","s":"MACD","v":-12.6e-12},{"d":"2024-01-23","s":"MACD","v":-13.3e-12},{"d":"2024-01-24","s":"MACD","v":-13.8e-12},
{"d":"2023-08-15","s":"Signal","v":-3.3e-12},{"d":"2023-08-17","s":"Signal","v":-3.0e-12},{"d":"2023-08-20","s":"Signal","v":-3.3e-12},{"d":"2023-08-25","s":"Signal","v":-3.0e-12},{"d":"2023-08-30","s":"Signal","v":-2.8e-12},{"d":"2023-09-04","s":"Signal","v":-3.1e-12},{"d":"2023-09-08","s":"Signal","v":-3.7e-12},{"d":"2023-09-11","s":"Signal","v":-4.5e-12},{"d":"2023-09-13","s":"Signal","v":-6.2e-12},{"d":"2023-09-15","s":"Signal","v":-7.9e-12},{"d":"2023-09-18","s":"Signal","v":-9.1e-12},{"d":"2023-09-20","s":"Signal","v":-9.3e-12},{"d":"2023-09-23","s":"Signal","v":-9.1e-12},{"d":"2023-09-27","s":"Signal","v":-8.2e-12},{"d":"2023-09-30","s":"Signal","v":-6.8e-12},{"d":"2023-10-02","s":"Signal","v":-3.9e-12},{"d":"2023-10-05","s":"Signal","v":-2.2e-12},{"d":"2023-10-08","s":"Signal","v":-1.0e-12},{"d":"2023-10-11","s":"Signal","v":-0.8e-12},{"d":"2023-10-14","s":"Signal","v":-1.4e-12},{"d":"2023-10-15","s":"Signal","v":-0.5e-12},{"d":"2023-10-16","s":"Signal","v":0.9e-12},{"d":"2023-10-17","s":"Signal","v":2.2e-12},{"d":"2023-10-19","s":"Signal","v":4.5e-12},{"d":"2023-10-21","s":"Signal","v":10.4e-12},{"d":"2023-10-23","s":"Signal","v":15.1e-12},{"d":"2023-10-26","s":"Signal","v":19.1e-12},{"d":"2023-10-29","s":"Signal","v":20.0e-12},{"d":"2023-10-31","s":"Signal","v":19.3e-12},{"d":"2023-11-02","s":"Signal","v":17.6e-12},{"d":"2023-11-04","s":"Signal","v":17.0e-12},{"d":"2023-11-06","s":"Signal","v":16.4e-12},{"d":"2023-11-09","s":"Signal","v":14.8e-12},{"d":"2023-11-13","s":"Signal","v":11.3e-12},{"d":"2023-11-16","s":"Signal","v":5.9e-12},{"d":"2023-11-19","s":"Signal","v":0.7e-12},{"d":"2023-11-21","s":"Signal","v":-3.3e-12},{"d":"2023-11-24","s":"Signal","v":-4.7e-12},{"d":"2023-11-27","s":"Signal","v":-3.6e-12},{"d":"2023-11-30","s":"Signal","v":-1.9e-12},{"d":"2023-12-04","s":"Signal","v":0.7e-12},{"d":"2023-12-07","s":"Signal","v":5.9e-12},{"d":"2023-12-09","s":"Signal","v":12.3e-12},{"d":"2023-12-11","s":"Signal","v":19.1e-12},{"d":"2023-12-13","s":"Signal","v":22.8e-12},{"d":"2023-12-16","s":"Signal","v":29.4e-12},{"d":"2023-12-18","s":"Signal","v":31.6e-12},{"d":"2023-12-20","s":"Signal","v":31.1e-12},{"d":"2023-12-23","s":"Signal","v":27.1e-12},{"d":"2023-12-25","s":"Signal","v":23.7e-12},{"d":"2023-12-28","s":"Signal","v":17.9e-12},{"d":"2023-12-31","s":"Signal","v":10.5e-12},{"d":"2024-01-04","s":"Signal","v":3.0e-12},{"d":"2024-01-07","s":"Signal","v":-0.2e-12},{"d":"2024-01-10","s":"Signal","v":-2.8e-12},{"d":"2024-01-15","s":"Signal","v":-5.6e-12},{"d":"2024-01-18","s":"Signal","v":-7.0e-12},{"d":"2024-01-20","s":"Signal","v":-9.1e-12},{"d":"2024-01-24","s":"Signal","v":-11.1e-12}
]
},
"vconcat": [
{
"width": 1420, "height": 590,
"layer": [
{"data": {"name": "zones"}, "mark": {"type": "rect", "color": "#4caf50", "opacity": 0.36},
 "encoding": {"x": {"datum": {"year":2023,"month":8,"date":14,"hours":15,"minutes":9,"utc":true}, "type": "temporal"}, "x2": {"datum": {"year":2024,"month":2,"date":5,"hours":7,"minutes":2,"utc":true}}, "y": {"field": "lo", "type": "quantitative"}, "y2": {"field": "hi"}}},
{"data": {"name": "candles"}, "mark": {"type": "rule", "strokeWidth": 1},
 "encoding": {
  "x": {"field": "d", "type": "temporal", "scale": {"type": "utc", "padding": 0, "domain": [{"year":2023,"month":8,"date":14,"hours":15,"minutes":9,"utc":true},{"year":2024,"month":2,"date":5,"hours":7,"minutes":2,"utc":true}]},
   "axis": {"values": [{"year":2023,"month":9,"date":1,"utc":true},{"year":2023,"month":9,"date":11,"utc":true},{"year":2023,"month":9,"date":21,"utc":true},{"year":2023,"month":10,"date":1,"utc":true},{"year":2023,"month":10,"date":16,"utc":true},{"year":2023,"month":11,"date":1,"utc":true},{"year":2023,"month":11,"date":13,"utc":true},{"year":2023,"month":12,"date":1,"utc":true},{"year":2023,"month":12,"date":11,"utc":true},{"year":2023,"month":12,"date":21,"utc":true},{"year":2024,"month":1,"date":1,"utc":true},{"year":2024,"month":1,"date":15,"utc":true},{"year":2024,"month":2,"date":1,"utc":true}], "tickCount": 40, "labels": false, "grid": true, "title": null}},
  "y": {"field": "l", "type": "quantitative", "scale": {"domain": [1.349e-10, 5.1335e-10], "nice": false, "zero": false},
   "axis": {"orient": "right", "tickCount": 40, "values": [1.4e-10,1.6e-10,1.8e-10,2.0e-10,2.2e-10,2.4e-10,2.6e-10,2.8e-10,3.0e-10,3.2e-10,3.4e-10,3.6e-10,3.8e-10,4.0e-10,4.2e-10,4.4e-10,4.6e-10,4.8e-10],
    "labelExpr": "abs(datum.value - 3.0e-10) < 1e-12 || abs(datum.value - 2.6e-10) < 1e-12 ? '' : format(datum.value, '.13f')", "grid": true, "labelPadding": 7, "title": null}},
  "y2": {"field": "h"},
  "color": {"condition": {"test": "datum.c >= datum.o", "value": "#089981"}, "value": "#f23645"}}},
{"data": {"name": "candles"}, "mark": {"type": "bar", "size": 5, "strokeWidth": 0.6},
 "encoding": {"x": {"field": "d", "type": "temporal"}, "y": {"field": "o", "type": "quantitative"}, "y2": {"field": "c"},
  "fill": {"condition": {"test": "datum.c >= datum.o", "value": "#089981"}, "value": "#f23645"},
  "stroke": {"condition": {"test": "datum.c >= datum.o", "value": "#089981"}, "value": "#f23645"}}},
{"data": {"name": "ema"}, "mark": {"type": "line", "strokeWidth": 1.5, "opacity": 0.55, "clip": true, "interpolate": "monotone"},
 "encoding": {"x": {"field": "d", "type": "temporal"}, "y": {"field": "v", "type": "quantitative"},
  "color": {"field": "s", "type": "nominal", "scale": {"domain": ["EMA20", "EMA50", "Close"], "range": ["#ff0000", "#ff9800", "#f23645"]}, "legend": null}}},
{"data": {"name": "last"}, "transform": [{"filter": "datum.k == 'Close'"}], "mark": {"type": "rule", "strokeDash": [1, 3], "strokeWidth": 1},
 "encoding": {"y": {"field": "p", "type": "quantitative"}, "color": {"field": "k", "type": "nominal", "legend": null}}},
{"data": {"name": "last"}, "transform": [{"filter": "datum.k != 'Close'"}], "mark": {"type": "rule", "strokeWidth": 16},
 "encoding": {"x": {"datum": {"year":2024,"month":2,"date":5,"hours":7,"minutes":2,"utc":true}, "type": "temporal"}, "x2": {"datum": {"year":2024,"month":2,"date":18,"hours":4,"minutes":48,"utc":true}}, "y": {"field": "p", "type": "quantitative"}, "color": {"field": "k", "type": "nominal", "legend": null}}},
{"data": {"name": "last"}, "transform": [{"filter": "datum.k == 'Close'"}], "mark": {"type": "rule", "strokeWidth": 31, "yOffset": 7.5},
 "encoding": {"x": {"datum": {"year":2024,"month":2,"date":5,"hours":7,"minutes":2,"utc":true}, "type": "temporal"}, "x2": {"datum": {"year":2024,"month":2,"date":18,"hours":4,"minutes":48,"utc":true}}, "y": {"field": "p", "type": "quantitative"}, "color": {"field": "k", "type": "nominal", "legend": null}}},
{"data": {"name": "last"}, "mark": {"type": "text", "align": "left", "baseline": "middle", "fontSize": 11, "color": "white"},
 "encoding": {"x": {"datum": {"year":2024,"month":2,"date":6,"hours":3,"minutes":36,"utc":true}, "type": "temporal"}, "y": {"field": "p", "type": "quantitative"}, "text": {"field": "t"}}},
{"data": {"name": "last"}, "mark": {"type": "text", "align": "left", "baseline": "middle", "fontSize": 11, "color": "white", "dy": 14},
 "encoding": {"x": {"datum": {"year":2024,"month":2,"date":6,"hours":3,"minutes":36,"utc":true}, "type": "temporal"}, "y": {"field": "p", "type": "quantitative"}, "text": {"field": "sub"}}},
{"data": {"values": [{"t": "USDT"}]}, "mark": {"type": "rect", "fill": "white", "stroke": "#e0e3eb", "strokeWidth": 1, "cornerRadius": 4},
 "encoding": {"x": {"datum": {"year":2024,"month":2,"date":5,"hours":13,"minutes":0,"utc":true}, "type": "temporal"}, "x2": {"datum": {"year":2024,"month":2,"date":18,"hours":4,"minutes":48,"utc":true}}, "y": {"datum": 5.108e-10, "type": "quantitative"}, "y2": {"datum": 4.954e-10}}},
{"data": {"values": [{"t": "USDT"}]}, "mark": {"type": "text", "align": "left", "baseline": "middle", "fontSize": 11, "color": "#131722"},
 "encoding": {"x": {"datum": {"year":2024,"month":2,"date":6,"hours":15,"minutes":36,"utc":true}, "type": "temporal"}, "y": {"datum": 5.031e-10, "type": "quantitative"}, "text": {"field": "t"}}},
{"data": {"values": [{"t": "KishuInu / USDT, 1D, MEXC"}]}, "mark": {"type": "text", "align": "left", "baseline": "middle", "fontSize": 11.8, "color": "#131722"},
 "encoding": {"x": {"datum": {"year":2023,"month":8,"date":15,"hours":14,"minutes":46,"utc":true}, "type": "temporal"}, "y": {"datum": 5.05e-10, "type": "quantitative"}, "text": {"field": "t"}}},
{"data": {"values": [{"t": "O"}]}, "mark": {"type": "text", "align": "left", "baseline": "middle", "fontSize": 11, "color": "#131722"},
 "encoding": {"x": {"datum": {"year":2023,"month":9,"date":2,"hours":22,"minutes":34,"utc":true}, "type": "temporal"}, "y": {"datum": 5.05e-10, "type": "quantitative"}, "text": {"field": "t"}}},
{"data": {"values": [{"t": "0.0000000002647"}]}, "mark": {"type": "text", "align": "left", "baseline": "middle", "fontSize": 11, "color": "#f23645"},
 "encoding": {"x": {"datum": {"year":2023,"month":9,"date":3,"hours":23,"minutes":45,"utc":true}, "type": "temporal"}, "y": {"datum": 5.05e-10, "type": "quantitative"}, "text": {"field": "t"}}},
{"data": {"values": [{"t": "H"}]}, "mark": {"type": "text", "align": "left", "baseline": "middle", "fontSize": 11, "color": "#131722"},
 "encoding": {"x": {"datum": {"year":2023,"month":9,"date":16,"hours":5,"minutes":31,"utc":true}, "type": "temporal"}, "y": {"datum": 5.05e-10, "type": "quantitative"}, "text": {"field": "t"}}},
{"data": {"values": [{"t": "0.0000000002682"}]}, "mark": {"type": "text", "align": "left", "baseline": "middle", "fontSize": 11, "color": "#f23645"},
 "encoding": {"x": {"datum": {"year":2023,"month":9,"date":17,"hours":6,"minutes":29,"utc":true}, "type": "temporal"}, "y": {"datum": 5.05e-10, "type": "quantitative"}, "text": {"field": "t"}}},
{"data": {"values": [{"t": "L"}]}, "mark": {"type": "text", "align": "left", "baseline": "middle", "fontSize": 11, "color": "#131722"},
 "encoding": {"x": {"datum": {"year":2023,"month":9,"date":29,"hours":9,"minutes":22,"utc":true}, "type": "temporal"}, "y": {"datum": 5.05e-10, "type": "quantitative"}, "text": {"field": "t"}}},
{"data": {"values": [{"t": "0.0000000002635"}]}, "mark": {"type": "text", "align": "left", "baseline": "middle", "fontSize": 11, "color": "#f23645"},
 "encoding": {"x": {"datum": {"year":2023,"month":9,"date":30,"hours":6,"minutes":0,"utc":true}, "type": "temporal"}, "y": {"datum": 5.05e-10, "type": "quantitative"}, "text": {"field": "t"}}},
{"data": {"values": [{"t": "C"}]}, "mark": {"type": "text", "align": "left", "baseline": "middle", "fontSize": 11, "color": "#131722"},
 "encoding": {"x": {"datum": {"year":2023,"month":10,"date":12,"hours":7,"minutes":14,"utc":true}, "type": "temporal"}, "y": {"datum": 5.05e-10, "type": "quantitative"}, "text": {"field": "t"}}},
{"data": {"values": [{"t": "0.0000000002646  +0.0000000000003 (+0.11%)"}]}, "mark": {"type": "text", "align": "left", "baseline": "middle", "fontSize": 11, "color": "#f23645"},
 "encoding": {"x": {"datum": {"year":2023,"month":10,"date":13,"hours":6,"minutes":53,"utc":true}, "type": "temporal"}, "y": {"datum": 5.05e-10, "type": "quantitative"}, "text": {"field": "t"}}},
{"data": {"values": [{"t": "EMA 20/50/100/200"}]}, "mark": {"type": "text", "align": "left", "baseline": "middle", "fontSize": 11.6, "color": "#131722"},
 "encoding": {"x": {"datum": {"year":2023,"month":8,"date":15,"hours":14,"minutes":46,"utc":true}, "type": "temporal"}, "y": {"datum": 4.941e-10, "type": "quantitative"}, "text": {"field": "t"}}},
{"data": {"values": [{"t": "0.0000000002929"}]}, "mark": {"type": "text", "align": "left", "baseline": "middle", "fontSize": 11, "color": "#ff0000"},
 "encoding": {"x": {"datum": {"year":2023,"month":8,"date":29,"hours":15,"minutes":22,"utc":true}, "type": "temporal"}, "y": {"datum": 4.941e-10, "type": "quantitative"}, "text": {"field": "t"}}},
{"data": {"values": [{"t": "0.0000000003022"}]}, "mark": {"type": "text", "align": "left", "baseline": "middle", "fontSize": 11, "color": "#ff9800"},
 "encoding": {"x": {"datum": {"year":2023,"month":9,"date":11,"hours":1,"minutes":26,"utc":true}, "type": "temporal"}, "y": {"datum": 4.941e-10, "type": "quantitative"}, "text": {"field": "t"}}}
]
},
{
"width": 1420, "height": 180,
"layer": [
{"data": {"name": "hist"}, "mark": {"type": "bar", "size": 6, "color": "#b2dfdb"},
 "encoding": {
  "x": {"field": "d", "type": "temporal", "scale": {"type": "utc", "padding": 0, "domain": [{"year":2023,"month":8,"date":14,"hours":15,"minutes":9,"utc":true},{"year":2024,"month":2,"date":5,"hours":7,"minutes":2,"utc":true}]},
   "axis": {"values": [{"year":2023,"month":9,"date":1,"utc":true},{"year":2023,"month":9,"date":11,"utc":true},{"year":2023,"month":9,"date":21,"utc":true},{"year":2023,"month":10,"date":1,"utc":true},{"year":2023,"month":10,"date":16,"utc":true},{"year":2023,"month":11,"date":1,"utc":true},{"year":2023,"month":11,"date":13,"utc":true},{"year":2023,"month":12,"date":1,"utc":true},{"year":2023,"month":12,"date":11,"utc":true},{"year":2023,"month":12,"date":21,"utc":true},{"year":2024,"month":1,"date":1,"utc":true},{"year":2024,"month":1,"date":15,"utc":true},{"year":2024,"month":2,"date":1,"utc":true}],
    "tickCount": 40,
    "labelExpr": "utcdate(datum.value) == 1 ? (utcmonth(datum.value) == 0 ? utcFormat(datum.value, '%Y') : utcFormat(datum.value, '%b')) : utcFormat(datum.value, '%d')",
    "labelFontWeight": {"condition": {"test": "utcmonth(datum.value) == 0 && utcdate(datum.value) == 1", "value": "bold"}, "value": "normal"},
    "labelPadding": 10, "grid": true,
    "title": "TradingView", "titleAnchor": "start", "titleAlign": "left", "titleX": 23, "titleY": 46, "titleBaseline": "middle", "titleFontSize": 13, "titleFontWeight": "normal", "titleColor": "#131722", "titleFont": "Roboto"}},
  "y": {"field": "h", "type": "quantitative", "scale": {"domain": [-1.828e-11, 4.379e-11], "nice": false, "zero": false},
   "axis": {"orient": "right", "tickCount": 10, "values": [0, 2e-11, 4e-11], "format": ".13f", "grid": true, "labelPadding": 7, "title": null}},
  "y2": {"datum": 0}}},
{"data": {"values": [{"z": 0}]}, "mark": {"type": "rule", "strokeDash": [4, 4], "color": "#9598a1", "strokeWidth": 1},
 "encoding": {"y": {"field": "z", "type": "quantitative"}}},
{"data": {"name": "macd"}, "mark": {"type": "line", "strokeWidth": 1.2, "interpolate": "monotone"},
 "encoding": {"x": {"field": "d", "type": "temporal"}, "y": {"field": "v", "type": "quantitative"},
  "color": {"field": "s", "type": "nominal", "scale": {"domain": ["MACD", "Signal"], "range": ["#2962ff", "#ff6d00"]}, "legend": null}}},
{"data": {"values": [{"t": "MACD (12, 26, close, 9, EMA, EMA)"}]}, "mark": {"type": "text", "align": "left", "baseline": "middle", "fontSize": 11.9, "color": "#131722"},
 "encoding": {"x": {"datum": {"year":2023,"month":8,"date":15,"hours":14,"minutes":46,"utc":true}, "type": "temporal"}, "y": {"datum": 3.897e-11, "type": "quantitative"}, "text": {"field": "t"}}},
{"data": {"values": [{"t": "−0.0000000000027"}]}, "mark": {"type": "text", "align": "left", "baseline": "middle", "fontSize": 11, "color": "#a5d6d0"},
 "encoding": {"x": {"datum": {"year":2023,"month":9,"date":8,"hours":11,"minutes":31,"utc":true}, "type": "temporal"}, "y": {"datum": 3.897e-11, "type": "quantitative"}, "text": {"field": "t"}}},
{"data": {"values": [{"t": "−0.0000000000138"}]}, "mark": {"type": "text", "align": "left", "baseline": "middle", "fontSize": 11, "color": "#2962ff"},
 "encoding": {"x": {"datum": {"year":2023,"month":9,"date":21,"hours":12,"minutes":28,"utc":true}, "type": "temporal"}, "y": {"datum": 3.897e-11, "type": "quantitative"}, "text": {"field": "t"}}},
{"data": {"values": [{"t": "−0.0000000000111"}]}, "mark": {"type": "text", "align": "left", "baseline": "middle", "fontSize": 11, "color": "#ff6d00"},
 "encoding": {"x": {"datum": {"year":2023,"month":10,"date":4,"hours":13,"minutes":12,"utc":true}, "type": "temporal"}, "y": {"datum": 3.897e-11, "type": "quantitative"}, "text": {"field": "t"}}}
]
}
]
}
